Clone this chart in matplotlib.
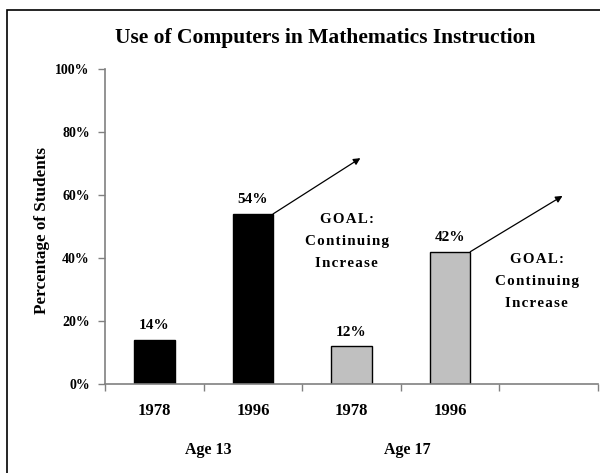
import matplotlib
matplotlib.use("Agg")
from matplotlib import pyplot as plt
from matplotlib.patches import Rectangle

years = ["1978", "1996", "1978", "1996"]
values = [14, 54, 12, 42]
colors = ["black", "black", "#c0c0c0", "#c0c0c0"]
groups = ["Age 13", "Age 17"]
yticks = [0, 20, 40, 60, 80, 100]
goal_lines = ["GOAL:", "Continuing", "Increase"]
# arrows: (start x, start y, end x, end y) in data units
arrows = [(1.205, 54, 2.09, 71.7), (3.205, 42, 4.14, 59.7)]
goal_pos = [(1.95, 45.1), (3.88, 32.4)]

plt.rcParams["font.family"] = ["Liberation Serif", "DejaVu Serif"]
plt.rcParams["font.weight"] = "bold"

def spaced(s):
    # the original uses letter spacing on the goal text
    return "\u200a".join(s)

goal_text = "\n".join(spaced(l) for l in goal_lines)

fig = plt.figure(figsize=(6, 4.73), dpi=100)
ax = fig.add_axes([105/600, 1-384/473, 493/600, 315/473])

x = range(len(values))
ax.bar(x, values, width=0.41, color=colors, edgecolor="black", linewidth=1)
for i, v in enumerate(values):
    ax.text(i, v + 4.5, f"{v}%", ha="center", va="center", fontsize=11, fontweight="bold")

for x0, y0, x1, y1 in arrows:
    ax.annotate("", xy=(x1, y1), xytext=(x0, y0),
                arrowprops=dict(arrowstyle="-|>", color="black", lw=0.9, mutation_scale=10,
                                shrinkA=0, shrinkB=0))
for gx, gy in goal_pos:
    ax.text(gx, gy, goal_text, ha="center", va="center", fontsize=10.8, fontweight="bold",
            linespacing=1.9)

ax.set_xlim(-0.5, 4.5)
ax.set_ylim(0, 100)
ax.set_yticks(yticks)
ax.set_yticklabels([f"{t}%" for t in yticks], fontsize=10, fontweight="bold")
ax.tick_params(axis="y", length=5, width=1, color="#808080", pad=6)
ax.set_xticks(list(x))
ax.set_xticklabels(years, fontsize=12, fontweight="bold")
ax.tick_params(axis="x", which="major", length=0, pad=14)
ax.set_xticks([i - 0.5 for i in range(6)], minor=True)
ax.tick_params(axis="x", which="minor", length=5, width=1, color="#808080", direction="out")

for s in ["top", "right"]:
    ax.spines[s].set_visible(False)
for s in ["left", "bottom"]:
    ax.spines[s].set_color("#808080")
    ax.spines[s].set_linewidth(1.2)

fig.text(208/600, 1-450/473, groups[0], ha="center", va="center", fontsize=11.5, fontweight="bold")
fig.text(407/600, 1-450/473, groups[1], ha="center", va="center", fontsize=11.5, fontweight="bold")
fig.text(325/600, 1-38/473, "Use of Computers in Mathematics Instruction",
         ha="center", va="center", fontsize=15.5, fontweight="bold")
fig.text(42/600, 1-230/473, "Percentage of Students", rotation=90,
         ha="center", va="center", fontsize=12.3, fontweight="bold")

fig.patches.append(Rectangle((7/600, -0.1), 1.2, 0.1 + 1 - 10/473, transform=fig.transFigure,
                             fill=False, edgecolor="black", linewidth=1.2))

fig.savefig("out.png", dpi=100)
